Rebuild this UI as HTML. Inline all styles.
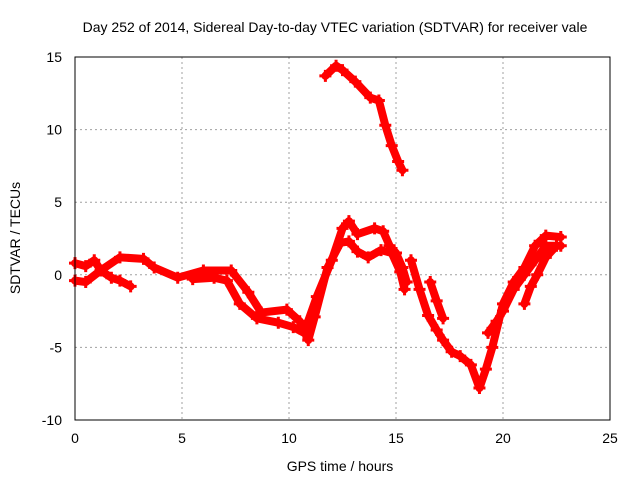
<!DOCTYPE html>
<html><head><meta charset="utf-8"><style>
body{margin:0;background:#fff}
svg{display:block;font-family:"Liberation Sans",sans-serif}
</style></head><body>
<svg id="chart" width="640" height="480">
<text x="335" y="32" font-size="14" text-anchor="middle">Day 252 of 2014, Sidereal Day-to-day VTEC variation (SDTVAR) for receiver vale</text>
<text x="340" y="471" font-size="14" text-anchor="middle">GPS time / hours</text>
<text transform="translate(20,238) rotate(-90)" font-size="14" text-anchor="middle">SDTVAR / TECUs</text>
<g id="grid"></g><g id="series"></g>
</svg>
<script>
const xTicks=[0,5,10,15,20,25];
const yTicks=[-10,-5,0,5,10,15];
const trackTop_h=[11.7,12.2,12.5,13.1,13.8,14.2,14.5,14.8,15.1,15.3];
const trackTop_v=[13.7,14.4,14.1,13.3,12.2,12.0,10.3,8.9,7.8,7.2];
const trackA_h=[0,0.5,0.9,1.2,1.7,2.1,2.6];
const trackA_v=[0.8,0.6,1.0,0.3,-0.2,-0.4,-0.8];
const trackB_h=[0,0.5,1.2,2.1,3.2,3.7,4.8,6,7.3,8.1,8.7,9.9,10.5,10.9,11.2,11.8,12.4,12.8,13.2,13.7,14.3,14.8,15.2,15.4];
const trackB_v=[-0.4,-0.5,0.3,1.2,1.1,0.5,-0.2,0.3,0.3,-1.2,-2.6,-2.4,-3.2,-4.5,-2.9,0.5,2.2,2.3,1.6,1.2,1.7,1.5,0.2,-1.0];
const trackC_h=[5.5,6.5,7.1,7.7,8.5,9.5,10.2,10.7,11.3,12,12.5,12.8,13.2,14,14.4,14.7,15,15.3,15.5];
const trackC_v=[-0.3,-0.2,-0.4,-2.0,-3.0,-3.3,-3.6,-4.0,-1.5,1.0,3.2,3.7,2.8,3.2,3.0,2.0,1.5,0.5,-0.5];
const trackD_h=[15.7,16.1,16.5,16.9,17.2,17.6,18.0,18.5,18.9,19.2,19.5,20,20.5,21,21.5,22,22.7];
const trackD_v=[1.0,-1.0,-2.8,-3.8,-4.5,-5.3,-5.6,-6.2,-7.8,-6.5,-5.0,-2.0,-0.5,0.5,2.0,2.7,2.6];
const trackE_h=[16.6,16.9,17.2];
const trackE_v=[-0.5,-1.8,-3.0];
const trackF_h=[19.3,19.7,20,20.5,21,21.5,22,22.7];
const trackF_v=[-4.0,-3.2,-2.5,-1.0,0.0,1.0,2.0,2.0];
const trackG_h=[21.0,21.3,21.6,22,22.5];
const trackG_v=[-2.0,-0.8,0.0,1.2,2.0];
const L=75,R=610,T=57,B=420;
const xs=h=>L+(h-0)/25*(R-L);
const ys=v=>B-(v+10)/25*(B-T);
const NS='http://www.w3.org/2000/svg';
const svg=document.getElementById('chart'),grid=document.getElementById('grid'),ser=document.getElementById('series');
function mk(tag,attrs,parent){const e=document.createElementNS(NS,tag);for(const k in attrs)e.setAttribute(k,attrs[k]);parent.appendChild(e);return e;}
xTicks.forEach(t=>{
  const x=xs(t);
  if(t>0&&t<25){const g=mk('line',{x1:x,x2:x,y1:T,y2:B,stroke:'#a0a0a0','stroke-dasharray':'2,3'},grid);
  
  }
  const lb=mk('text',{x:x,y:B+23,'font-size':14,'text-anchor':'middle'},svg);lb.textContent=t;
  
  
});
yTicks.forEach(t=>{
  const y=ys(t);
  if(t>-10&&t<15){const g=mk('line',{x1:L,x2:R,y1:y,y2:y,stroke:'#a0a0a0','stroke-dasharray':'2,3'},grid);
  
  }
  const lb=mk('text',{x:L-13,y:y+5,'font-size':14,'text-anchor':'end'},svg);lb.textContent=t;
  
  
});
const frame=mk('rect',{x:L,y:T,width:R-L,height:B-T,fill:'none',stroke:'#000','stroke-width':1},svg);


const tracks=[[trackTop_h,trackTop_v],[trackA_h,trackA_v],[trackB_h,trackB_v],[trackC_h,trackC_v],[trackD_h,trackD_v],[trackE_h,trackE_v],[trackF_h,trackF_v],[trackG_h,trackG_v]];
tracks.forEach(([hs,vs])=>{
  const pts=hs.map((h,i)=>xs(h)+','+ys(vs[i])).join(' ');
  const pl=mk('polyline',{points:pts,fill:'none',stroke:'#ff0000','stroke-width':8,'stroke-linejoin':'round','stroke-linecap':'round'},ser);
  
  
  hs.forEach((h,i)=>{
    const x=xs(h),y=ys(vs[i]);
    const p=mk('path',{d:`M${x-6},${y}H${x+6}M${x},${y-6}V${y+6}`,stroke:'#ff0000','stroke-width':3},ser);
    
    
  });
});
</script>
</body></html>
